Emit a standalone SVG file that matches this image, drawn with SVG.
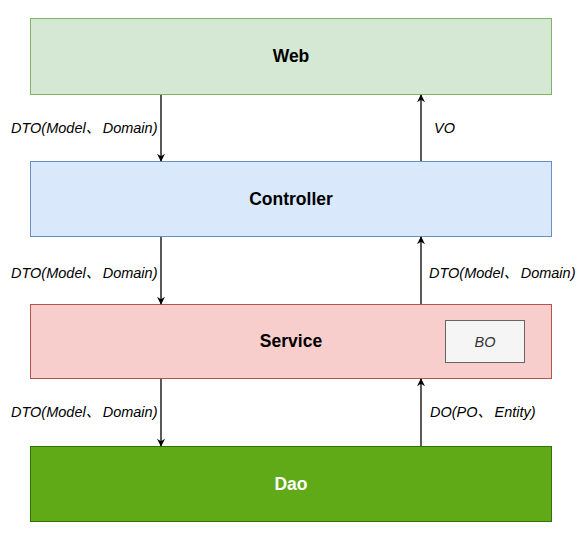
<svg xmlns="http://www.w3.org/2000/svg" width="580" height="545" viewBox="0 0 580 545">
<style>
.t{font-family:"Liberation Sans",Arial,"Noto Sans CJK SC",sans-serif;font-weight:bold;font-size:17.5px;text-anchor:middle;dominant-baseline:central}
.l{font-family:"Liberation Sans",Arial,"Noto Sans CJK SC",sans-serif;font-style:italic;font-size:14.5px;dominant-baseline:central;fill:#000}
.c{stroke:#000;stroke-width:1.3;fill:none;marker-end:url(#a)}
</style>
<defs>
<marker id="a" viewBox="0 0 10 10" refX="9" refY="5" markerWidth="8" markerHeight="8" markerUnits="userSpaceOnUse" orient="auto">
<path d="M0,0 L10,5 L0,10 L3,5 Z" fill="#000"/>
</marker>
</defs>
<rect width="580" height="545" fill="#fff"/>
<g id="web"><rect x="30.5" y="18.5" width="521" height="76" fill="#d5e8d4" stroke="#82b366"/><text class="t" x="291" y="56">Web</text></g>
<g id="controller"><rect x="30.5" y="161.5" width="521" height="75" fill="#dae8fc" stroke="#6c8ebf"/><text class="t" x="291" y="199">Controller</text></g>
<g id="service"><rect x="30.5" y="304.5" width="521" height="74" fill="#f8cecc" stroke="#b85450"/><text class="t" x="291" y="341">Service</text></g>
<g id="bo"><rect x="445.5" y="320.5" width="79" height="42" fill="#f5f5f5" stroke="#666666"/><text class="l" x="485" y="342" text-anchor="middle" style="fill:#333333">BO</text></g>
<g id="dao"><rect x="30.5" y="446.5" width="521" height="75" fill="#60a917" stroke="#2d7600"/><text class="t" x="291" y="484" fill="#ffffff">Dao</text></g>
<g id="connectors">
<line class="c" x1="161" y1="95" x2="161" y2="161"/>
<line class="c" x1="421" y1="161" x2="421" y2="95"/>
<line class="c" x1="161" y1="237" x2="161" y2="304"/>
<line class="c" x1="421" y1="304" x2="421" y2="237"/>
<line class="c" x1="161" y1="379" x2="161" y2="446"/>
<line class="c" x1="421" y1="446" x2="421" y2="379"/>
<text class="l" x="11" y="128">DTO(Model、<tspan dx="2.5">Domain)</tspan></text>
<text class="l" x="434" y="128">VO</text>
<text class="l" x="11" y="273">DTO(Model、<tspan dx="2.5">Domain)</tspan></text>
<text class="l" x="429" y="273">DTO(Model、<tspan dx="2.5">Domain)</tspan></text>
<text class="l" x="11" y="412">DTO(Model、<tspan dx="2.5">Domain)</tspan></text>
<text class="l" x="430" y="412">DO(PO、<tspan dx="2.5">Entity)</tspan></text>
</g>
</svg>
